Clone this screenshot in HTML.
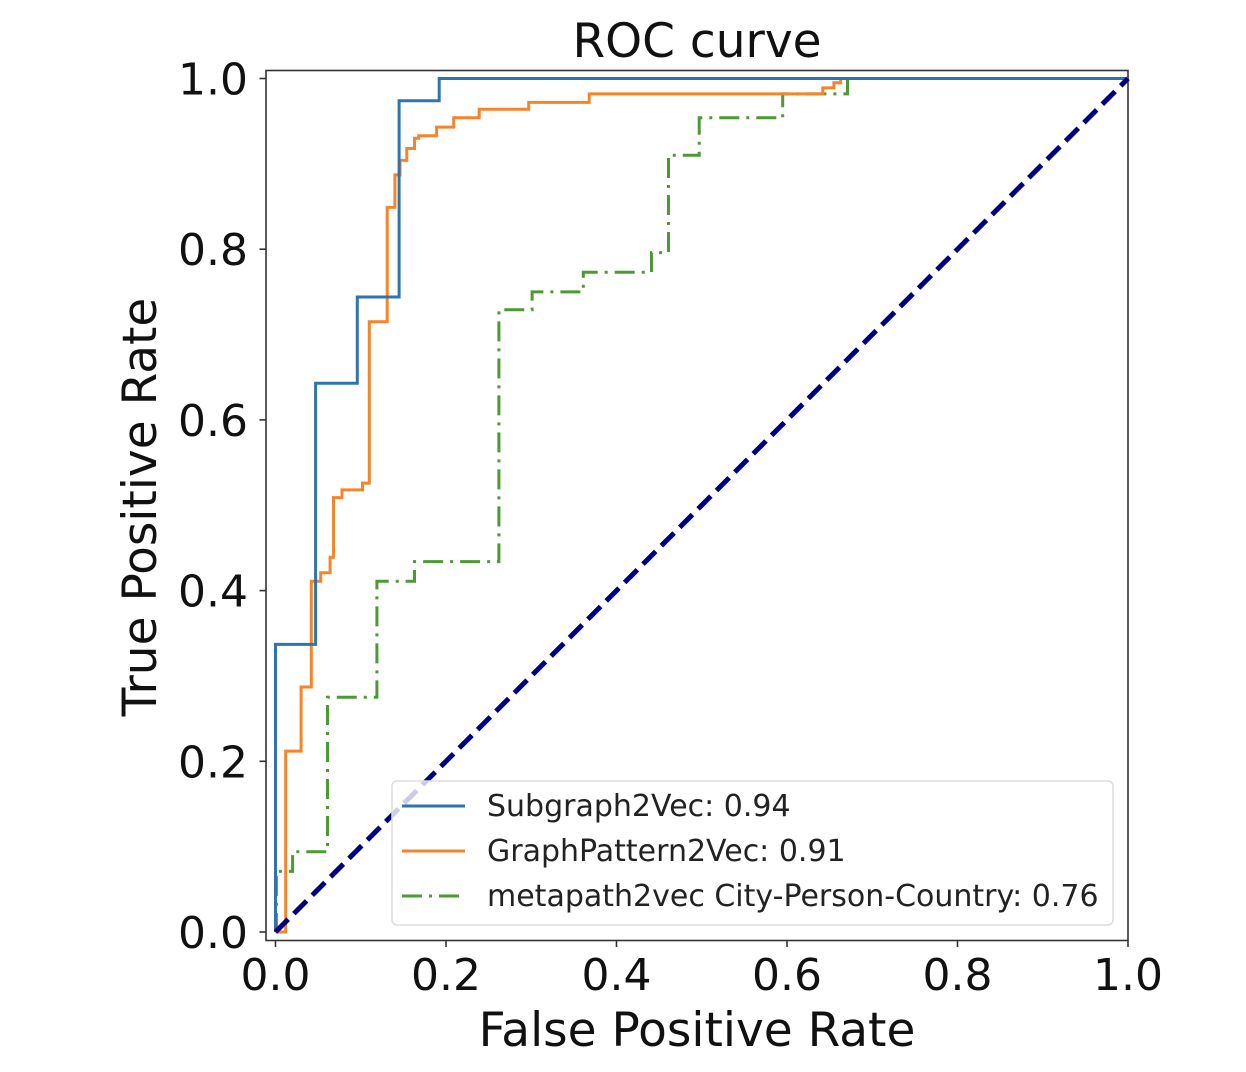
<!DOCTYPE html>
<html><head><meta charset="utf-8"><style>
html,body{margin:0;padding:0;background:#fff;}
svg{display:block;font-family:"DejaVu Sans","Liberation Sans",sans-serif;}
</style></head><body>
<svg id="chart" width="1246" height="1072" viewBox="0 0 1246 1072">
<g id="plot"></g>
</svg>
<script>
const xTicks=[0,0.2,0.4,0.6,0.8,1.0];
const yTicks=[0,0.2,0.4,0.6,0.8,1.0];
const tickLabels=["0.0","0.2","0.4","0.6","0.8","1.0"];
const seriesNames=["Subgraph2Vec: 0.94","GraphPattern2Vec: 0.91","metapath2vec City-Person-Country: 0.76"];
const blueFpr=[0,0,0.047,0.047,0.096,0.096,0.145,0.145,0.192,0.192,1];
const blueTpr=[0,0.337,0.337,0.643,0.643,0.744,0.744,0.974,0.974,1,1];
const orangeFpr=[0,0.012,0.012,0.030,0.030,0.042,0.042,0.053,0.053,0.064,0.064,0.068,0.068,0.078,0.078,0.102,0.102,0.110,0.110,0.131,0.131,0.140,0.140,0.146,0.146,0.154,0.154,0.163,0.163,0.168,0.168,0.189,0.189,0.209,0.209,0.239,0.239,0.297,0.297,0.368,0.368,0.642,0.642,0.655,0.655,0.663,0.663,1];
const orangeTpr=[0,0,0.212,0.212,0.287,0.287,0.411,0.411,0.421,0.421,0.439,0.439,0.509,0.509,0.518,0.518,0.526,0.526,0.715,0.715,0.849,0.849,0.887,0.887,0.904,0.904,0.918,0.918,0.930,0.930,0.933,0.933,0.943,0.943,0.954,0.954,0.964,0.964,0.972,0.972,0.982,0.982,0.989,0.989,0.995,0.995,1,1];
const greenFpr=[0,0.001,0.001,0.020,0.020,0.061,0.061,0.119,0.119,0.163,0.163,0.262,0.262,0.301,0.301,0.361,0.361,0.441,0.441,0.461,0.461,0.497,0.497,0.595,0.595,0.671,0.671,1];
const greenTpr=[0,0,0.071,0.071,0.094,0.094,0.275,0.275,0.411,0.411,0.434,0.434,0.729,0.729,0.750,0.750,0.773,0.773,0.796,0.796,0.910,0.910,0.954,0.954,0.982,0.982,1,1];
const diagFpr=[0,1];
const diagTpr=[0,1];

const NS="http://www.w3.org/2000/svg";
const g=document.getElementById('plot');
const X=v=>275.5+v*852.5;
const Y=v=>932-v*853.5;
function mk(tag,attrs,parent){const e=document.createElementNS(NS,tag);for(const k in attrs)e.setAttribute(k,attrs[k]);(parent||g).appendChild(e);return e;}

const frame=mk('rect',{x:266,y:70.5,width:862,height:870,fill:'none',stroke:'#333',"stroke-width":1.6});



xTicks.forEach((t,i)=>{
  const l=mk('line',{x1:X(t),x2:X(t),y1:940.5,y2:947,stroke:'#333',"stroke-width":1.6});
  
  
  const tx=mk('text',{x:X(t),y:990,"font-size":44,"text-anchor":"middle",fill:'#111'});
  tx.textContent=tickLabels[i];
  
  
});
yTicks.forEach((t,i)=>{
  const l=mk('line',{x1:259.5,x2:266,y1:Y(t),y2:Y(t),stroke:'#333',"stroke-width":1.6});
  
  
  const tx=mk('text',{x:248,y:Y(t)+16,"font-size":44,"text-anchor":"end",fill:'#111'});
  tx.textContent=tickLabels[i];
  
  
});

function line(xs,ys,attrs,name){
  const pts=xs.map((v,i)=>X(v).toFixed(1)+','+Y(ys[i]).toFixed(1)).join(' ');
  const p=mk('polyline',Object.assign({points:pts,fill:'none'},attrs));
  
  
  return p;
}
line(greenFpr,greenTpr,{stroke:'#4d9a35',"stroke-width":3,"stroke-dasharray":"20 7 3 7"},'metapath2vec-curve');
line(orangeFpr,orangeTpr,{stroke:'#f5842a',"stroke-width":3},'graphpattern2vec-curve');
line(blueFpr,blueTpr,{stroke:'#2f73b0',"stroke-width":3},'subgraph2vec-curve');
line(diagFpr,diagTpr,{stroke:'#000080',"stroke-width":5,"stroke-dasharray":"18 8"},'chance-diagonal');

const lg=mk('g',{});


mk('rect',{x:392,y:781,width:721,height:144,rx:5,fill:'#fff',"fill-opacity":0.8,stroke:'#ddd',"stroke-width":1.5},lg);
const colors=['#2f73b0','#f5842a','#4d9a35'];
const dashes=['none','none','20 7 3 7'];
seriesNames.forEach((n,i)=>{
  const yy=806+i*45;
  const ln=mk('line',{x1:402,x2:465,y1:yy,y2:yy,stroke:colors[i],"stroke-width":3,"stroke-dasharray":dashes[i]},lg);
  
  
  const t=mk('text',{x:487,y:yy+10,"font-size":30,fill:'#222'},lg);
  t.textContent=n;
  
  
});

const title=mk('text',{x:697,y:57,"font-size":47,"text-anchor":"middle",fill:'#111'});
title.textContent='ROC curve';


const xl=mk('text',{x:697,y:1046,"font-size":47,"text-anchor":"middle",fill:'#111'});
xl.textContent='False Positive Rate';


const yl=mk('text',{x:0,y:0,"font-size":47,"text-anchor":"middle",fill:'#111',transform:'translate(156,507) rotate(-90)'});
yl.textContent='True Positive Rate';


</script>
</body></html>
